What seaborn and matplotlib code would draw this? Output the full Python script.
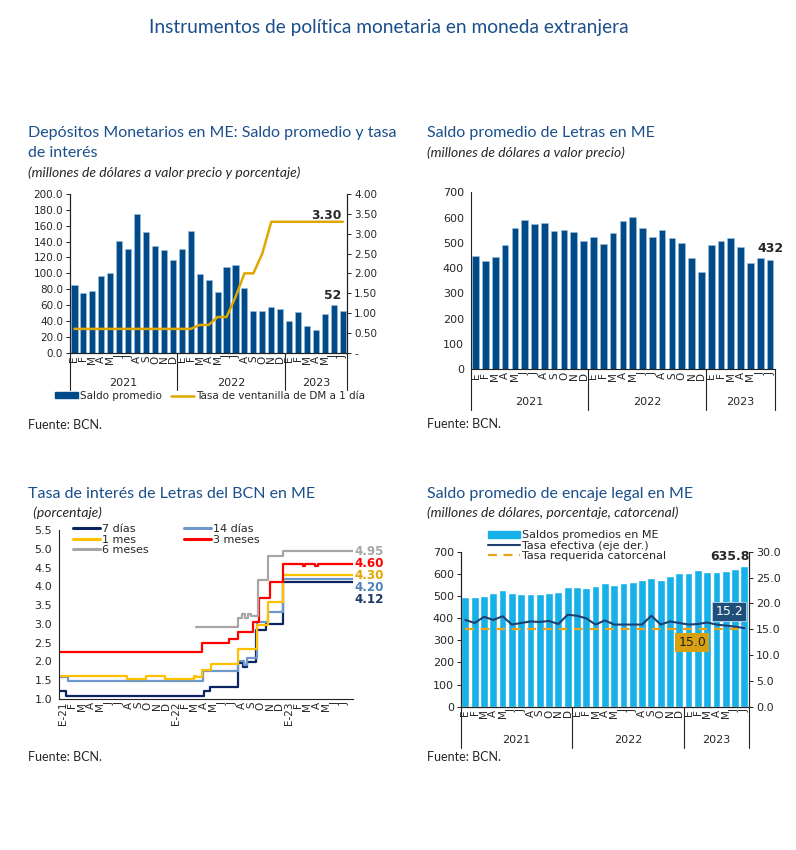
import pandas as pd
import seaborn as sns
from matplotlib import pyplot as plt
from matplotlib.lines import Line2D
from matplotlib.patches import Patch
import matplotlib.transforms as mtransforms

sns.set_style("white")
plt.rcParams["font.family"] = ["DejaVu Sans"]

W, H = 796, 850

# ---- data ----
meses = ["E", "F", "M", "A", "M", "J", "J", "A", "S", "O", "N", "D",
         "E", "F", "M", "A", "M", "J", "J", "A", "S", "O", "N", "D",
         "E", "F", "M", "A", "M", "J", "J"]
anios = ["2021", "2022", "2023"]
meses_letras = ["E-21", "F", "M", "A", "M", "J", "J", "A", "S", "O", "N", "D",
                "E-22", "F", "M", "A", "M", "J", "J", "A", "S", "O", "N", "D",
                "E-23", "F", "M", "A", "M", "J", "J"]

# depositos monetarios (millones US$) and tasa de ventanilla (%)
depositos_saldo = [85, 75, 78, 97, 100, 141, 131, 175, 152, 134, 130, 117,
                   131, 154, 99, 92, 76, 108, 110, 82, 53, 52, 57, 55,
                   40, 51, 34, 28, 49, 60, 52]
tasa_ventanilla = [0.60, 0.60, 0.60, 0.60, 0.60, 0.60, 0.60, 0.60, 0.60, 0.60, 0.60, 0.60,
                   0.60, 0.60, 0.70, 0.70, 0.90, 0.90, 1.40, 2.00, 2.00, 2.50, 3.30, 3.30,
                   3.30, 3.30, 3.30, 3.30, 3.30, 3.30, 3.30]

# saldo de letras (millones US$)
letras_saldo = [447, 428, 443, 492, 560, 590, 573, 577, 546, 549, 544, 506,
                522, 495, 539, 585, 601, 560, 523, 550, 519, 498, 440, 386,
                492, 508, 519, 484, 420, 439, 432]

# tasas de letras (step series: month position, value)
t7d_x = [-0.4, 0.3, 15.0, 15.6, 18.65, 19.2, 19.6, 20.5, 21.6, 23.4, 30.8]
t7d_y = [1.20, 1.08, 1.22, 1.31, 1.95, 1.86, 1.99, 2.84, 3.01, 4.12, 4.12]
t14d_x = [-0.4, 0.55, 14.9, 18.65, 19.3, 19.6, 20.6, 21.8, 23.4, 30.8]
t14d_y = [1.59, 1.49, 1.75, 2.00, 1.90, 2.10, 3.06, 3.32, 4.20, 4.20]
t1m_x = [-0.4, 6.85, 8.8, 10.9, 13.9, 14.2, 14.75, 15.8, 18.65, 20.6, 21.8, 23.4, 30.8]
t1m_y = [1.62, 1.53, 1.62, 1.53, 1.62, 1.58, 1.77, 1.93, 2.33, 2.97, 3.59, 4.30, 4.30]
t3m_x = [-0.4, 14.8, 17.7, 18.65, 20.2, 20.9, 22.0, 23.4, 25.5, 25.8, 26.8, 27.1, 30.8]
t3m_y = [2.26, 2.50, 2.59, 2.79, 3.06, 3.68, 4.12, 4.59, 4.55, 4.59, 4.55, 4.60, 4.60]
t6m_x = [14.15, 18.65, 19.1, 19.4, 19.7, 20.0, 20.8, 21.8, 23.4, 30.8]
t6m_y = [2.92, 3.17, 3.26, 3.17, 3.26, 3.21, 4.16, 4.80, 4.95, 4.95]

# encaje legal
encaje_saldo = [497, 495, 500, 512, 528, 512, 510, 511, 511, 515, 518, 540,
                540, 538, 546, 557, 550, 557, 563, 572, 583, 572, 590, 605,
                605, 617, 610, 608, 614, 620, 636]
tasa_efectiva = [16.8, 16.2, 17.4, 16.8, 17.5, 15.9, 16.2, 16.5, 16.4, 16.6, 16.0, 17.8,
                 17.6, 17.1, 15.9, 16.7, 15.9, 15.9, 15.9, 15.9, 17.6, 15.9, 16.5, 16.2,
                 15.9, 16.0, 16.3, 15.9, 15.7, 15.5, 15.2]
tasa_requerida = [15.0, 15.0, 15.0, 15.0, 15.0, 15.0, 15.0, 15.0, 15.0, 15.0, 15.0, 15.0,
                  15.0, 15.0, 15.0, 15.0, 15.0, 15.0, 15.0, 15.0, 15.0, 15.0, 15.0, 15.0,
                  15.0, 15.0, 15.0, 15.0, 15.0, 15.0, 15.0]

pos = list(range(len(meses)))
df = pd.DataFrame({"pos": pos, "dep": depositos_saldo, "tasa": tasa_ventanilla,
                   "letras": letras_saldo, "encaje": encaje_saldo,
                   "efectiva": tasa_efectiva, "requerida": tasa_requerida})

NAVY = "#004B87"
GOLD = "#E0A600"
LIGHT = "#17B1EA"
TITLE_C = "#1A4F8B"
TFONT = ["Lato", "DejaVu Sans"]
TSIZE = 11.5
SSIZE = 10
FSIZE = 9

fig = plt.figure(figsize=(W / 100, H / 100), dpi=100)


def rect(l, r, t, b):
    return [l / W, 1 - b / H, (r - l) / W, (b - t) / H]


def ftext(x, y, s, **kw):
    fig.text(x / W, 1 - y / H, s, va="center", **kw)


def style_axis(ax):
    for s in ax.spines.values():
        s.set_color("#222222")
        s.set_linewidth(0.8)
    ax.tick_params(axis="y", length=3, width=0.7, labelsize=7.5, pad=2, color="#222222")
    ax.tick_params(axis="x", length=0, labelsize=7.5, pad=2)


def year_axis(ax, sep_y, label_y):
    tr = mtransforms.blended_transform_factory(ax.transData, ax.transAxes)
    for xb in [-0.5, 11.5, 23.5, 30.5]:
        ax.plot([xb, xb], [0, sep_y], transform=tr, color="#222222", lw=0.8, clip_on=False)
    for xc, lab in zip([5.5, 17.5, 27.0], anios):
        ax.text(xc, label_y, lab, transform=tr, ha="center", va="center", fontsize=8)


# ---- main title ----
ftext(389, 28, "Instrumentos de política monetaria en moneda extranjera",
      ha="center", fontsize=13.8, color=TITLE_C, family=TFONT)

# ---- panel 1 ----
ax1 = fig.add_axes(rect(70, 347.3, 194, 352.7))
sns.barplot(data=df, x="pos", y="dep", color=NAVY, saturation=1, width=0.68,
            edgecolor="#9DC3E6", linewidth=0.4, ax=ax1)
ax1.set_xlim(-0.5, 30.5)
ax1.set_ylim(0, 200)
ax1.set_yticks(range(0, 201, 20))
ax1.set_yticklabels([f"{v:.1f}" for v in range(0, 201, 20)])
ax1.set_xticks(pos)
ax1.set_xticklabels(meses, rotation=90)
ax1.set_xlabel("")
ax1.set_ylabel("")
ax1r = ax1.twinx()
sns.lineplot(data=df, x="pos", y="tasa", color=GOLD, lw=1.8, ax=ax1r)
ax1r.set_ylim(0, 4)
ax1r.set_yticks([i * 0.5 for i in range(9)])
ax1r.set_yticklabels(["-"] + [f"{i * 0.5:.2f}" for i in range(1, 9)])
ax1r.set_ylabel("")
ax1r.set_xlim(-0.5, 30.5)
for a in (ax1, ax1r):
    style_axis(a)
    a.spines["top"].set_visible(False)
year_axis(ax1, -0.235, -0.19)
ax1r.text(28.2, 3.47, "3.30", ha="center", va="center", fontsize=8.8, fontweight="bold")
ax1.text(28.9, 72, "52", ha="center", va="center", fontsize=8.8, fontweight="bold")
ax1.legend(handles=[Patch(color=NAVY), Line2D([], [], color=GOLD, lw=1.8)],
           labels=["Saldo promedio", "Tasa de ventanilla de DM a 1 día"],
           loc="center", bbox_to_anchor=(210 / W, 1 - 396 / H), bbox_transform=fig.transFigure,
           ncol=2, frameon=False, fontsize=7.5, handlelength=2.2, handleheight=0.5,
           handletextpad=0.2, columnspacing=0.8)
ftext(28, 133, "Depósitos Monetarios en ME: Saldo promedio y tasa", fontsize=TSIZE,
      color=TITLE_C, family=TFONT)
ftext(28, 153, "de interés", fontsize=TSIZE, color=TITLE_C, family=TFONT)
ftext(28, 173, "(millones de dólares a valor precio y porcentaje)", fontsize=SSIZE,
      style="italic", family=TFONT)
ftext(28, 425, "Fuente: BCN.", fontsize=FSIZE, family=TFONT)

# ---- panel 2 ----
ax2 = fig.add_axes(rect(470.7, 775, 192.3, 369.3))
sns.barplot(data=df, x="pos", y="letras", color=NAVY, saturation=1, width=0.68,
            edgecolor="#9DC3E6", linewidth=0.4, ax=ax2)
ax2.set_xlim(-0.5, 30.5)
ax2.set_ylim(0, 700)
ax2.set_yticks(range(0, 701, 100))
ax2.set_xticks(pos)
ax2.set_xticklabels(meses, rotation=90)
ax2.set_xlabel("")
ax2.set_ylabel("")
style_axis(ax2)
ax2.spines["top"].set_visible(False)
ax2.spines["right"].set_visible(False)
ax2.tick_params(axis="y", labelsize=8)
year_axis(ax2, -0.23, -0.183)
ax2.text(30.0, 478, "432", ha="center", va="center", fontsize=9, fontweight="bold")
ftext(427, 133, "Saldo promedio de Letras en ME", fontsize=TSIZE, color=TITLE_C, family=TFONT)
ftext(427, 153, "(millones de dólares a valor precio)", fontsize=SSIZE, style="italic",
      family=TFONT)
ftext(427, 424, "Fuente: BCN.", fontsize=FSIZE, family=TFONT)

# ---- panel 3 ----
ax3 = fig.add_axes(rect(59, 353, 530, 699))
series3 = [("7 días", t7d_x, t7d_y, "#0A2463"),
           ("14 días", t14d_x, t14d_y, "#6E98C9"),
           ("1 mes", t1m_x, t1m_y, "#FFC000"),
           ("3 meses", t3m_x, t3m_y, "#FF0000"),
           ("6 meses", t6m_x, t6m_y, "#A6A6A6")]
handles = {}
for name, xs, ys, c in series3:
    sns.lineplot(x=xs, y=ys, drawstyle="steps-post", color=c, lw=1.6, ax=ax3)
    handles[name] = Line2D([], [], color=c, lw=2.2)
ax3.set_xlim(-0.4, 30.85)
ax3.set_ylim(1.0, 5.5)
ax3.set_yticks([1.0 + 0.5 * i for i in range(10)])
ax3.set_yticklabels([f"{1.0 + 0.5 * i:.1f}" for i in range(10)])
ax3.set_xticks(pos)
ax3.set_xticklabels(meses_letras, rotation=90)
style_axis(ax3)
ax3.spines["top"].set_visible(False)
ax3.spines["right"].set_visible(False)
ax3.tick_params(axis="y", labelsize=8)
for txt, yv, tc in [("4.95", 4.92, "#A6A6A6"), ("4.60", 4.60, "#FF0000"),
                    ("4.30", 4.29, "#E0A800"), ("4.20", 3.98, "#4F81BD"),
                    ("4.12", 3.66, "#1F3864")]:
    ax3.text(31.0, yv, txt, ha="left", va="center", fontsize=8.6, fontweight="bold",
             color=tc, clip_on=False)
order3 = ["7 días", "1 mes", "6 meses", "14 días", "3 meses"]
ax3.legend([handles[n] for n in order3], order3, loc="upper left",
           bbox_to_anchor=(73 / W, 1 - 524 / H), bbox_transform=fig.transFigure,
           ncol=2, frameon=False, fontsize=8, handlelength=2.4, handletextpad=0.2,
           columnspacing=3.2, labelspacing=0.05, borderpad=0, borderaxespad=0)
ftext(28, 494, "Tasa de interés de Letras del BCN en ME", fontsize=TSIZE, color=TITLE_C,
      family=TFONT)
ftext(30, 513, " (porcentaje)", fontsize=SSIZE, style="italic", family=TFONT)
ftext(28, 757, "Fuente: BCN.", fontsize=FSIZE, family=TFONT)

# ---- panel 4 ----
ax4 = fig.add_axes(rect(460.7, 749, 551.7, 706.7))
sns.barplot(data=df, x="pos", y="encaje", color=LIGHT, saturation=1, width=0.84, ax=ax4)
ax4.set_xlim(-0.5, 30.5)
ax4.set_ylim(0, 700)
ax4.set_yticks(range(0, 701, 100))
ax4.set_xticks(pos)
ax4.set_xticklabels(meses, rotation=90)
ax4.set_xlabel("")
ax4.set_ylabel("")
ax4r = ax4.twinx()
sns.lineplot(data=df, x="pos", y="efectiva", color="#1F3F6E", lw=1.5, ax=ax4r)
sns.lineplot(data=df, x="pos", y="requerida", color="#E8A317", lw=1.6, ax=ax4r,
             dashes=False, linestyle=(0, (4, 3)))
ax4r.set_xlim(-0.5, 30.5)
ax4r.set_ylim(0, 30)
ax4r.set_yticks(range(0, 31, 5))
ax4r.set_yticklabels([f"{v:.1f}" for v in range(0, 31, 5)])
ax4r.set_ylabel("")
for a in (ax4, ax4r):
    style_axis(a)
    a.spines["top"].set_visible(False)
    a.tick_params(axis="y", labelsize=8)
year_axis(ax4, -0.266, -0.215)
ax4.text(28.4, 677, "635.8", ha="center", va="center", fontsize=9, fontweight="bold")
ax4r.annotate("15.2", xy=(30, 15.2), xytext=(28.4, 18.4), ha="center", va="center",
              fontsize=9, color="white",
              bbox=dict(boxstyle="square,pad=0.25", fc="#1F4E79", ec="#BDD7EE", lw=0.6),
              arrowprops=dict(arrowstyle="-", color="#A6A6A6", lw=0.8))
ax4r.text(24.4, 12.4, "15.0", ha="center", va="center", fontsize=9, color="#222222",
          bbox=dict(boxstyle="square,pad=0.25", fc="#D9A010", ec="none"))
ax4.legend(handles=[Patch(color=LIGHT), Line2D([], [], color="#1F3F6E", lw=1.5),
                    Line2D([], [], color="#E8A317", lw=1.6, linestyle=(0, (4, 3)))],
           labels=["Saldos promedios en ME", "Tasa efectiva (eje der.)", "Tasa requerida catorcenal"],
           loc="upper left", bbox_to_anchor=(488 / W, 1 - 530 / H), bbox_transform=fig.transFigure,
           frameon=False, fontsize=8, handlelength=2.9, handleheight=0.6,
           handletextpad=0.2, labelspacing=0.05, borderpad=0, borderaxespad=0)
ftext(427, 494, "Saldo promedio de encaje legal en ME", fontsize=TSIZE, color=TITLE_C,
      family=TFONT)
ftext(427, 513, "(millones de dólares, porcentaje, catorcenal)", fontsize=SSIZE, style="italic",
      family=TFONT)
ftext(427, 757, "Fuente: BCN.", fontsize=FSIZE, family=TFONT)

fig.savefig("out.png", dpi=100, facecolor="white")
